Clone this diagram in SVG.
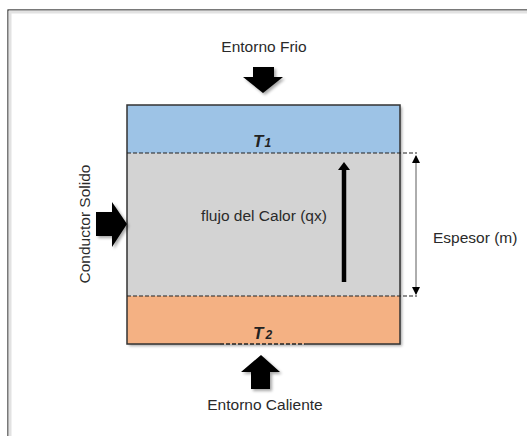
<svg xmlns="http://www.w3.org/2000/svg" width="527" height="436" viewBox="0 0 527 436">
<defs>
<style>
.lbl{font-family:"Liberation Sans",Arial,sans-serif;font-size:15.5px;fill:#2a2a2a}
.tt{font-family:"Liberation Sans",Arial,sans-serif;font-weight:bold;font-style:italic;fill:#222}
.edge{stroke:#333;stroke-width:1.5;fill:none}
.dash{stroke:#222;stroke-width:1.2;stroke-dasharray:4 2;fill:none}
.blk{fill:#000}
</style>
<filter id="sh" x="-20%" y="-20%" width="140%" height="140%">
<feGaussianBlur in="SourceAlpha" stdDeviation="1.5"/>
<feOffset dx="1.5" dy="2" result="b"/>
<feComponentTransfer><feFuncA type="linear" slope="0.35"/></feComponentTransfer>
<feMerge><feMergeNode/><feMergeNode in="SourceGraphic"/></feMerge>
</filter>
<marker id="ah" viewBox="0 0 8 8" refX="7" refY="4" markerWidth="8" markerHeight="8" markerUnits="userSpaceOnUse" orient="auto-start-reverse">
<path d="M0,0 L8,4 L0,8 Z" fill="#000"/>
</marker>
</defs>
<rect width="527" height="436" fill="#fff"/>
<rect x="8" y="10" width="530" height="440" fill="none" stroke="#222" stroke-width="1.2"/>
<rect x="10" y="12" width="526" height="436" fill="none" stroke="#e2e2e2" stroke-width="3"/>

<g id="solido">
<g filter="url(#sh)">
<rect x="127" y="105" width="273" height="48" fill="#9DC3E6"/>
<rect x="127" y="153" width="273" height="143" fill="#D3D3D3"/>
<rect x="127" y="296" width="273" height="48" fill="#F4B183"/>
</g>
<path class="edge" d="M220,344 L127,344 L127,105 L400,105 L400,344 L305,344"/>
<line x1="220" y1="344" x2="305" y2="344" stroke="#222" stroke-width="1.5" stroke-dasharray="4 2"/>
</g>
<g id="t1"><text class="tt" x="253" y="147" font-size="17">T<tspan font-size="12" dx="1">1</tspan></text></g>
<g id="t2"><text class="tt" x="253" y="339" font-size="17">T<tspan font-size="12" dx="2">2</tspan></text></g>
<g id="flujo">
<text class="lbl" x="264" y="221" text-anchor="middle">flujo del Calor (qx)</text>
</g>
<g id="espesor"><text class="lbl" x="433" y="243">Espesor (m)</text></g>
<g id="conductor"><text class="lbl" transform="translate(90,224) rotate(-90)" text-anchor="middle">Conductor Solido</text></g>
<g id="frio">
<text class="lbl" x="264" y="52" text-anchor="middle">Entorno Frio</text>
<path class="blk" filter="url(#sh)" d="M253,67 L274,67 L274,77 L283,77 L263,93 L243,77 L253,77 Z"/>
</g>
<g id="caliente">
<text class="lbl" x="265" y="410" text-anchor="middle">Entorno Caliente</text>
<path class="blk" filter="url(#sh)" d="M261,355 L280,372 L270,372 L270,389 L251,389 L251,372 L241,372 Z"/>
</g>
<g id="izq">
<path class="blk" filter="url(#sh)" d="M96,212 L112,212 L112,202 L127,224 L112,247 L112,236 L96,236 Z"/>
</g>
<g id="connectors">
<line class="dash" x1="127" y1="153" x2="417" y2="153"/>
<line class="dash" x1="127" y1="296" x2="417" y2="296"/>
<line x1="416" y1="156" x2="416" y2="294" stroke="#333" stroke-width="0.8" marker-start="url(#ah)" marker-end="url(#ah)"/>
<line x1="344" y1="282" x2="344" y2="168" stroke="#000" stroke-width="4.5"/>
<path d="M338,170 L344,162 L350,170 Z" fill="#000"/>
</g>
</svg>
